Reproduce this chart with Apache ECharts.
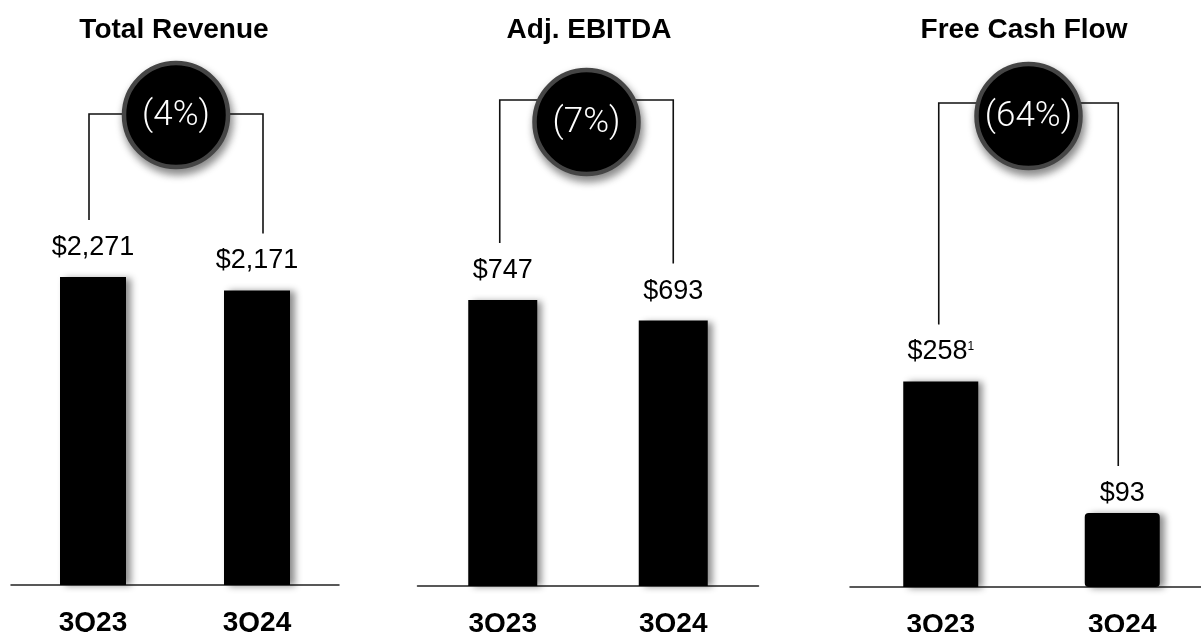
<!DOCTYPE html>
<html>
<head>
<meta charset="utf-8">
<script src="https://cdn.jsdelivr.net/npm/echarts@6/dist/echarts.min.js"></script>
<style>
html,body{margin:0;padding:0;background:#fff;}
#main{width:1201px;height:632px;}
</style>
</head>
<body>
<div id="main"></div>
<script>
// ---- data ----
const panelTitles = ['Total Revenue', 'Adj. EBITDA', 'Free Cash Flow'];
const categories = ['3Q23', '3Q24'];
const revenue = [2271, 2171];
const ebitda = [747, 693];
const freeCashFlow = [258, 93];
const changeLabels = ['(4%)', '(7%)', '(64%)'];
const footnotes = [['', ''], ['', ''], ['1', '']];

// ---- layout (pixels) ----
const panelValues = [revenue, ebitda, freeCashFlow];
const grids = [
  {left: 11, width: 328, bottom: 47, top: 178},
  {left: 417.5, width: 341, bottom: 46, top: 203},
  {left: 850, width: 363, bottom: 45, top: 348}
];
const yMax = [3000, 1000, 300];
const barWidths = [66, 69, 75];
const titleX = [169, 584, 1019];
const bracketTop = [114, 100, 103];
const bracketOffsetX = [[-4, 6], [-3, 0], [-2, -4]];
const circleCY = [115, 122, 116];
const labelDist = [[16, 16], [16, 16], [16, 6]];

const FONT = '"Liberation Sans", Arial, Helvetica, sans-serif';

const option = {
  animation: false,
  backgroundColor: '#fff',
  title: panelTitles.map((t, i) => ({
    text: t,
    left: titleX[i],
    top: 11,
    textAlign: 'center',
    textStyle: {fontFamily: FONT, fontWeight: 'bold', fontSize: 28, color: '#000'}
  })),
  grid: grids.map(g => Object.assign({containLabel: false, outerBoundsMode: 'none'}, g)),
  xAxis: grids.map((g, i) => ({
    type: 'category',
    gridIndex: i,
    data: categories,
    axisLine: {show: true, lineStyle: {color: '#222', width: 1.5}},
    axisTick: {show: false},
    axisLabel: {
      margin: 24,
      fontFamily: FONT, fontWeight: 'bold', fontSize: 28, color: '#000'
    },
    splitLine: {show: false}
  })),
  yAxis: grids.map((g, i) => ({
    type: 'value', gridIndex: i, min: 0, max: yMax[i], show: false,
    splitLine: {show: false}
  })),
  series: []
};

panelValues.forEach((vals, i) => {
  option.series.push({
    type: 'bar',
    xAxisIndex: i, yAxisIndex: i,
    barWidth: barWidths[i],
    data: vals.map((v, j) => ({
      value: v,
      itemStyle: (i === 2 && j === 1) ? {borderRadius: [4, 4, 4, 4]} : undefined,
      label: {
        distance: labelDist[i][j],
        formatter: '{a|$' + v.toLocaleString('en-US') + '}' + (footnotes[i][j] ? '{s|' + footnotes[i][j] + '}' : '')
      }
    })),
    itemStyle: {
      color: '#000',
      shadowColor: 'rgba(0,0,0,0.45)',
      shadowBlur: 7,
      shadowOffsetX: 5,
      shadowOffsetY: 1
    },
    label: {
      show: true,
      position: 'top',
      rich: {
        a: {fontFamily: FONT, fontSize: 27, color: '#000'},
        s: {fontFamily: FONT, fontSize: 12, color: '#000', padding: [0, 0, 10, 0]}
      }
    }
  });
  option.series.push({
    type: 'custom',
    xAxisIndex: i, yAxisIndex: i,
    clip: false,
    silent: true,
    z: 10,
    data: [[vals[0], vals[1]]],
    renderItem: function (params, api) {
      const p0 = api.coord([0, api.value(0)]);
      const p1 = api.coord([1, api.value(1)]);
      const x0 = p0[0] + bracketOffsetX[i][0], x1 = p1[0] + bracketOffsetX[i][1];
      const b0 = p0[1] - labelDist[i][0] - 41;
      const b1 = p1[1] - labelDist[i][1] - 41;
      const top = bracketTop[i];
      const cx = (x0 + x1) / 2, cy = circleCY[i];
      const ls = {stroke: '#111', lineWidth: 1.6, fill: null};
      return {
        type: 'group',
        children: [
          {type: 'polyline', shape: {points: [[x0, b0], [x0, top], [x1, top], [x1, b1]]}, style: ls},
          {type: 'circle', shape: {cx: cx, cy: cy, r: 52},
            style: {fill: '#000', stroke: '#454545', lineWidth: 4.5,
              shadowColor: 'rgba(0,0,0,0.45)', shadowBlur: 8, shadowOffsetX: 2, shadowOffsetY: 5}},
          {type: 'text', x: cx, y: cy + 1,
            style: {text: changeLabels[i], fill: '#fff', fontSize: 35, fontFamily: 'Roboto, ' + FONT, fontWeight: 300,
              align: 'center', verticalAlign: 'middle'}}
        ]
      };
    }
  });
});

const chart = echarts.init(document.getElementById('main'), null, {renderer: 'canvas'});
chart.setOption(option);
</script>
</body>
</html>
